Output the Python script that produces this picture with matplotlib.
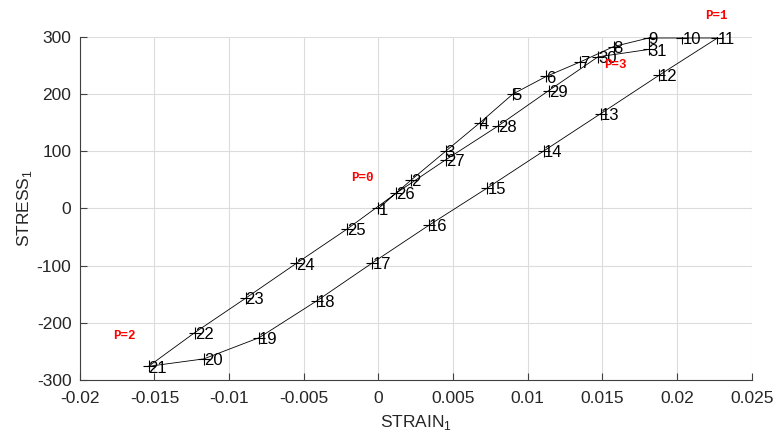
import matplotlib.pyplot as plt

plt.rcParams['font.family'] = ['Liberation Sans', 'DejaVu Sans']
plt.rcParams['axes.unicode_minus'] = False

# node numbers, strain and stress along the loading path
node_ids = list(range(1, 32))
strain = [0.0, 0.0022, 0.0045, 0.0068, 0.0090, 0.01125, 0.0135, 0.01575, 0.0181, 0.02035,
          0.0227, 0.0188, 0.0149, 0.0111, 0.0073, 0.0034, -0.0004, -0.0041, -0.0080, -0.0117,
          -0.0154, -0.0123, -0.0089, -0.0055, -0.0021, 0.0012, 0.0045, 0.0080, 0.0114, 0.0147,
          0.0181]
stress = [0, 50, 100, 150, 200, 231, 256, 283, 298, 298,
          298, 233, 166, 101, 36, -29, -95, -161, -226, -263,
          -276, -217, -157, -96, -36, 27, 85, 144, 206, 265,
          278]

# red phase labels
p_labels = ['P=0', 'P=1', 'P=2', 'P=3']
p_x = [-0.0011, 0.0226, -0.0170, 0.0159]
p_y = [53, 337, -223, 251]

fig = plt.figure(figsize=(7.75, 4.44), dpi=100)
ax = fig.add_axes([0.103, 0.144, 0.867, 0.773])

ax.plot(strain, stress, color='black', linewidth=0.6, marker='+',
        markersize=9, markeredgewidth=0.8)
for n, x, y in zip(node_ids, strain, stress):
    ax.text(x, y - 3, str(n), ha='left', va='center', fontsize=12, color='black')
for t, x, y in zip(p_labels, p_x, p_y):
    ax.text(x, y, t, ha='center', va='center', fontsize=9, color='red',
            family='Liberation Mono', fontweight='bold')

ax.set_xlim(-0.02, 0.025)
ax.set_ylim(-300, 300)
ax.set_xticks([-0.02, -0.015, -0.01, -0.005, 0, 0.005, 0.01, 0.015, 0.02, 0.025])
ax.set_xticklabels(['-0.02', '-0.015', '-0.01', '-0.005', '0', '0.005', '0.01', '0.015', '0.02', '0.025'])
ax.set_yticks([-300, -200, -100, 0, 100, 200, 300])
ax.grid(True, color='#dcdcdc', linewidth=0.8)
ax.set_axisbelow(True)
for s in ['top', 'right']:
    ax.spines[s].set_visible(False)
for s in ['left', 'bottom']:
    ax.spines[s].set_color('#404040')
    ax.spines[s].set_linewidth(0.8)
ax.tick_params(direction='in', length=5, colors='#404040', labelsize=12.5,
               labelcolor='#262626')
ax.tick_params(axis='x', pad=8)
ax.tick_params(axis='y', pad=6)
ax.set_xlabel(r'STRAIN$_\mathregular{1}$', fontsize=12.5, color='#262626', labelpad=5)
ax.set_ylabel(r'STRESS$_\mathregular{1}$', fontsize=12.5, color='#262626', labelpad=2)

fig.savefig('out.png', dpi=100)
